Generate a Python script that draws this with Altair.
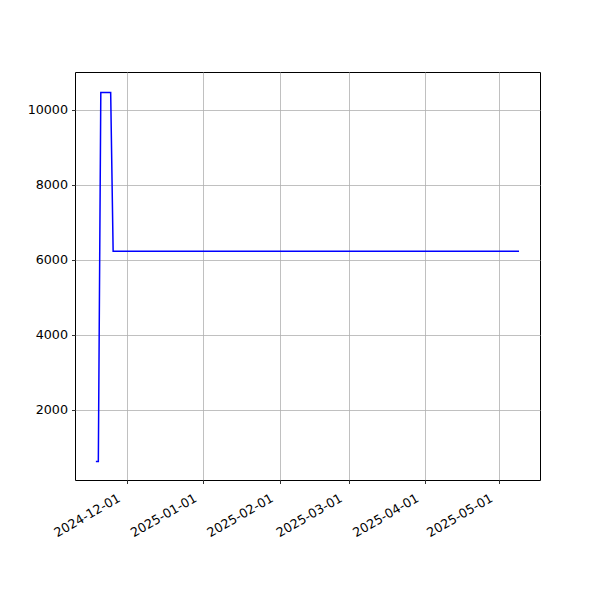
import altair as alt
import pandas as pd

dates = [
    "2024-11-18T12:00:00",
    "2024-11-19T12:00:00",
    "2024-11-20T12:00:00",
    "2024-11-24T12:00:00",
    "2024-11-25T12:00:00",
    "2025-05-09T00:00:00",
]
values = [620, 620, 10460, 10460, 6225, 6225]

x_ticks = ["2024-12-01", "2025-01-01", "2025-02-01", "2025-03-01", "2025-04-01", "2025-05-01"]
y_ticks = [2000, 4000, 6000, 8000, 10000]
y_domain = [125, 11005]

df = pd.DataFrame({"date": dates, "value": values})

x_tick_vals = [alt.DateTime(year=int(d[:4]), month=int(d[5:7]), date=int(d[8:10])) for d in x_ticks]

chart = (
    alt.Chart(df)
    .mark_line(color="#0000ff", strokeWidth=1.5)
    .encode(
        x=alt.X(
            "date:T",
            scale=alt.Scale(domain=[alt.DateTime(year=2024, month=11, date=10, hours=1),
                                    alt.DateTime(year=2025, month=5, date=17, hours=12)]),
            axis=alt.Axis(
                values=x_tick_vals,
                format="%Y-%m-%d",
                title=None,
                labelAngle=-30,
                labelAlign="right",
                labelBaseline="top",
                labelOffset=-11,
                labelPadding=8,
                labelOverlap=False,
                labelBound=False,
                labelFlush=False,
                grid=True,
            ),
        ),
        y=alt.Y(
            "value:Q",
            scale=alt.Scale(domain=y_domain, nice=False, zero=False),
            axis=alt.Axis(values=y_ticks, title=None, format="d", grid=True, labelPadding=4),
        ),
    )
    .properties(
        width=465,
        height=408,
        autosize=alt.AutoSizeParams(type="none"),
        padding={"left": 67, "top": 64, "right": 52, "bottom": 112},
    )
    .configure_view(stroke="black", strokeWidth=1)
    .configure_axis(
        labelFont="DejaVu Sans",
        labelFontSize=12.7,
        labelColor="black",
        tickColor="black",
        tickSize=3.5,
        tickWidth=0.8,
        domain=False,
        gridColor="#b0b0b0",
        gridWidth=0.8,
        gridOpacity=1,
    )
)

chart.save("out.html", embed_options={"renderer": "svg", "actions": False})
